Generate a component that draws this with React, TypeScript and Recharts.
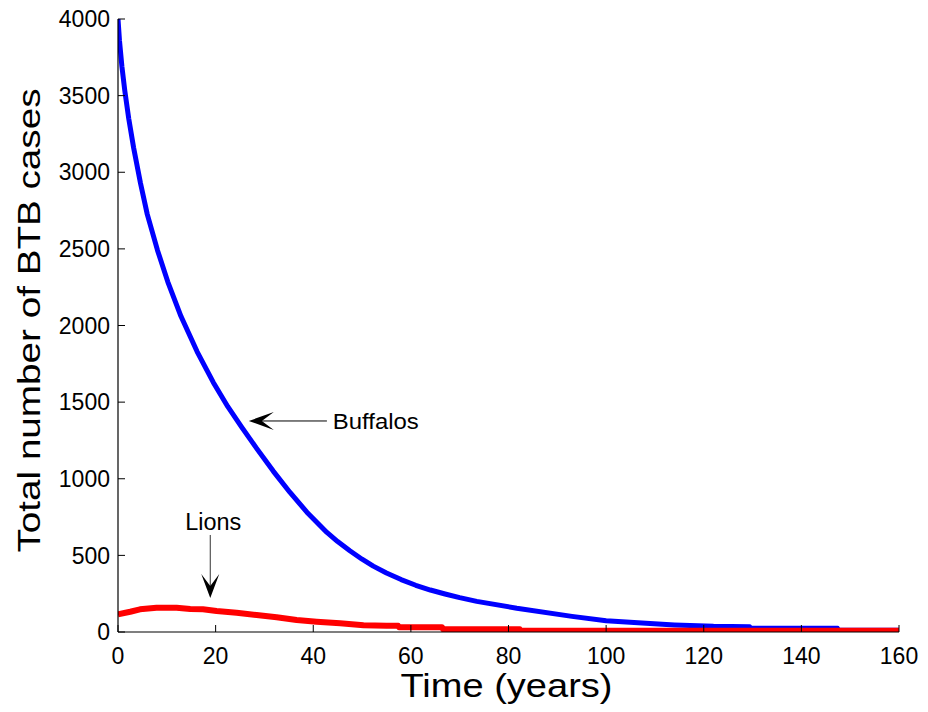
import {
  Line,
  LineChart,
  ReferenceDot,
  ReferenceLine,
  XAxis,
  YAxis,
} from "recharts";

// Buffalo BTB cases over time
const buffaloYears = [
  0, 0.3, 0.8, 1.4, 2.2, 3.2, 4.6, 6.0, 8.1, 10.2, 12.9, 16.2, 19.5, 22.5, 25.3,
  28.4, 31.8, 35.2, 38.7, 42.8, 45.0, 47.5, 50.0, 52.3, 55.0, 58.0, 61.0, 64.0,
  67.0, 70.0, 73.5, 81.7, 93.0, 100.0, 109.0, 114.0, 122.0, 129.4, 129.6, 147.4,
  147.6, 160,
];
const buffaloCases = [
  4000, 3860, 3690, 3530, 3350, 3160, 2930, 2725, 2490, 2285, 2060, 1830, 1630, 1470, 1338,
  1198, 1050, 912, 782, 650, 590, 530, 475, 430, 385, 342, 305, 274,
  248, 224, 200, 155, 102, 74, 55, 46, 37, 35, 24, 24,
  12, 12,
];

// Lion BTB cases over time
const lionYears = [
  0, 2.5, 4.5, 7.9, 12.0, 14.8, 17.4, 20.2, 24.3, 28.4, 32.5, 36.6, 40.7, 45.5,
  50.3, 55.0, 57.4, 57.6, 66.4, 66.6, 82.3, 82.5, 160,
];
const lionCases = [
  115, 132, 148, 158, 158, 150, 148, 137, 126, 111, 96, 78, 67, 57,
  44, 41, 40, 31, 31, 18, 18, 8, 8,
];

const yearTicks = [0, 20, 40, 60, 80, 100, 120, 140, 160];
const caseTicks = [0, 500, 1000, 1500, 2000, 2500, 3000, 3500, 4000];

const buffaloData = buffaloYears.map((year, i) => ({ year, cases: buffaloCases[i] }));
const lionData = lionYears.map((year, i) => ({ year, cases: lionCases[i] }));

// arrow annotations, in data coordinates
const buffaloArrow = { tipYear: 26.8, tailYear: 42.8, cases: 1377, labelYear: 44.0 };
const lionArrow = { year: 18.9, tipCases: 222, tailCases: 633, labelYear: 19.5, labelCases: 718 };

const FONT = "Arial, 'Liberation Sans', Helvetica, sans-serif";

function LeftHead({ cx, cy }: { cx?: number; cy?: number }) {
  if (cx == null || cy == null) return null;
  return (
    <path
      d={`M${cx},${cy} L${cx + 25},${cy - 9} L${cx + 13},${cy} L${cx + 25},${cy + 9} Z`}
      fill="#000"
    />
  );
}

function DownHead({ cx, cy }: { cx?: number; cy?: number }) {
  if (cx == null || cy == null) return null;
  return (
    <path
      d={`M${cx},${cy} L${cx - 9},${cy - 24} L${cx},${cy - 12} L${cx + 9},${cy - 24} Z`}
      fill="#000"
    />
  );
}

function Caption({
  cx,
  cy,
  text,
  anchor,
  size,
  length,
}: {
  cx?: number;
  cy?: number;
  text: string;
  anchor: "start" | "middle";
  size: number;
  length: number;
}) {
  if (cx == null || cy == null) return null;
  return (
    <text
      x={cx}
      y={cy + size * 0.358}
      textAnchor={anchor}
      fontSize={size}
      fontFamily={FONT}
      fill="#000"
      textLength={length}
      lengthAdjust="spacingAndGlyphs"
    >
      {text}
    </text>
  );
}

function XTitle(props: any) {
  const { x, y, width, height } = props.viewBox;
  return (
    <text
      x={x + width / 2 - 2}
      y={y + height - 15}
      textAnchor="middle"
      fontSize={33}
      fontFamily={FONT}
      fill="#000"
      textLength={212}
      lengthAdjust="spacingAndGlyphs"
    >
      Time (years)
    </text>
  );
}

function YTitle(props: any) {
  const { y, height } = props.viewBox;
  const cx = 40;
  const cy = y + height / 2 - 5;
  return (
    <text
      x={cx}
      y={cy}
      transform={`rotate(-90, ${cx}, ${cy})`}
      textAnchor="middle"
      fontSize={31}
      fontFamily={FONT}
      fill="#000"
      textLength={464}
      lengthAdjust="spacingAndGlyphs"
    >
      Total number of BTB cases
    </text>
  );
}

const tickStyle = { fill: "#000", fontSize: 23, fontFamily: FONT };

export default function App() {
  return (
    <div style={{ position: "absolute", left: 0, top: 0, background: "#fff" }}>
      <LineChart width={928} height={712} margin={{ top: 19, right: 29, bottom: 0, left: 0 }}>
        <XAxis
          type="number"
          dataKey="year"
          domain={[0, 160]}
          ticks={yearTicks}
          interval={0}
          height={80}
          tickSize={-7}
          tickMargin={23}
          tick={tickStyle}
          axisLine={{ stroke: "#000", strokeWidth: 1.2 }}
          tickLine={{ stroke: "#000" }}
          allowDataOverflow
          label={{ content: XTitle }}
        />
        <XAxis
          xAxisId="top"
          orientation="top"
          type="number"
          dataKey="year"
          domain={[0, 160]}
          ticks={yearTicks}
          interval={0}
          height={0}
          tickSize={-7}
          tick={false}
          axisLine={{ stroke: "#000", strokeWidth: 1.2 }}
          tickLine={{ stroke: "#000" }}
        />
        <YAxis
          type="number"
          domain={[0, 4000]}
          ticks={caseTicks}
          interval={0}
          width={118}
          tickSize={-7}
          tickMargin={15}
          tick={tickStyle}
          axisLine={{ stroke: "#000", strokeWidth: 1.2 }}
          tickLine={{ stroke: "#000" }}
          allowDataOverflow
          label={{ content: YTitle }}
        />
        <YAxis
          yAxisId="right"
          orientation="right"
          type="number"
          domain={[0, 4000]}
          ticks={caseTicks}
          interval={0}
          width={0}
          tickSize={-7}
          tick={false}
          axisLine={{ stroke: "#000", strokeWidth: 1.2 }}
          tickLine={{ stroke: "#000" }}
        />
        <Line
          data={buffaloData}
          dataKey="cases"
          type="linear"
          stroke="#0000ff"
          strokeWidth={5}
          strokeLinejoin="round"
          dot={false}
          activeDot={false}
          isAnimationActive={false}
        />
        <Line
          data={lionData}
          dataKey="cases"
          type="linear"
          stroke="#ff0000"
          strokeWidth={6}
          strokeLinejoin="round"
          dot={false}
          activeDot={false}
          isAnimationActive={false}
        />

        {/* Buffalos pointer */}
        <ReferenceLine
          segment={[
            { x: buffaloArrow.tipYear + 2, y: buffaloArrow.cases },
            { x: buffaloArrow.tailYear, y: buffaloArrow.cases },
          ]}
          stroke="#000"
          strokeWidth={1}
        />
        <ReferenceDot
          x={buffaloArrow.tipYear}
          y={buffaloArrow.cases}
          r={0}
          shape={(p: any) => <LeftHead cx={p.cx} cy={p.cy} />}
        />
        <ReferenceDot
          x={buffaloArrow.labelYear}
          y={buffaloArrow.cases}
          r={0}
          shape={(p: any) => (
            <Caption cx={p.cx} cy={p.cy} text="Buffalos" anchor="start" size={22} length={86} />
          )}
        />

        {/* Lions pointer */}
        <ReferenceLine
          segment={[
            { x: lionArrow.year, y: lionArrow.tailCases },
            { x: lionArrow.year, y: lionArrow.tipCases + 60 },
          ]}
          stroke="#333"
          strokeWidth={1}
        />
        <ReferenceDot
          x={lionArrow.year}
          y={lionArrow.tipCases}
          r={0}
          shape={(p: any) => <DownHead cx={p.cx} cy={p.cy} />}
        />
        <ReferenceDot
          x={lionArrow.labelYear}
          y={lionArrow.labelCases}
          r={0}
          shape={(p: any) => (
            <Caption cx={p.cx} cy={p.cy} text="Lions" anchor="middle" size={23} length={56} />
          )}
        />
      </LineChart>
    </div>
  );
}
